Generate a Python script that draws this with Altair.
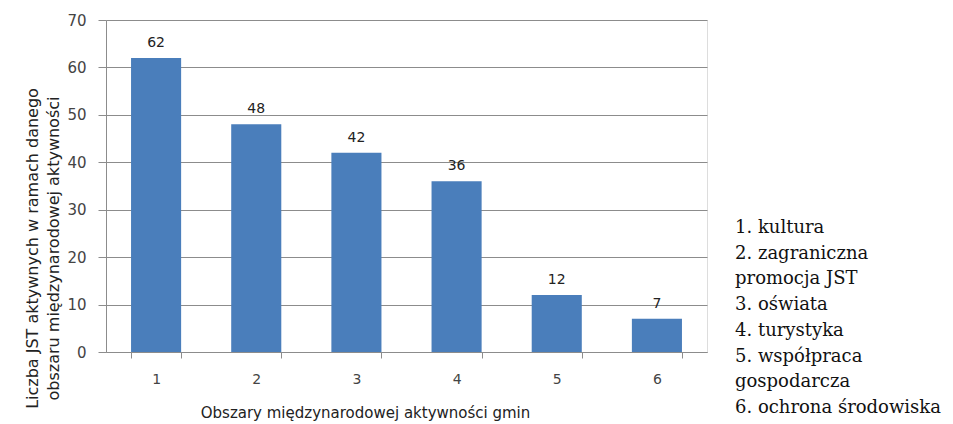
import altair as alt
import pandas as pd

categories = ["1", "2", "3", "4", "5", "6"]
values = [62, 48, 42, 36, 12, 7]
legend_lines = [
    "1. kultura",
    "2. zagraniczna",
    "promocja JST",
    "3. oświata",
    "4. turystyka",
    "5. współpraca",
    "gospodarcza",
    "6. ochrona środowiska",
]
y_title = ["Liczba JST aktywnych w ramach danego", "obszaru międzynarodowej aktywności"]
x_title = "Obszary międzynarodowej aktywności gmin"

df = pd.DataFrame({"cat": categories, "val": values})

W, H = 601, 332
SANS = "DejaVu Sans"

x_enc = alt.X(
    "cat:N",
    sort=categories,
    scale=alt.Scale(paddingInner=0.5, paddingOuter=0.25),
    axis=alt.Axis(
        title=x_title,
        labelAngle=0,
        labelFont=SANS,
        labelFontSize=14,
        labelColor="#444444",
        labelPadding=14,
        tickBand="extent",
        tickSize=6,
        tickColor="#8c8c8c",
        domainColor="#8c8c8c",
        titleFont=SANS,
        titleFontSize=15,
        titleFontWeight="normal",
        titleColor="#222222",
        titleX=259,
        titleY=60,
        titleAlign="center",
        titleBaseline="middle",
        grid=False,
    ),
)

y_enc = alt.Y(
    "val:Q",
    scale=alt.Scale(domain=[0, 70]),
    axis=alt.Axis(
        title=y_title,
        values=[0, 10, 20, 30, 40, 50, 60, 70],
        labelFont=SANS,
        labelFontSize=15,
        labelColor="#444444",
        labelPadding=12,
        tickSize=8,
        tickColor="#8c8c8c",
        domainColor="#8c8c8c",
        gridColor="#8c8c8c",
        gridWidth=1,
        titleFont=SANS,
        titleFontSize=16,
        titleFontWeight="normal",
        titleColor="#222222",
        titleAngle=270,
        titleX=-74,
        titleY=228,
        titleAlign="center",
        titleBaseline="middle",
        titleLineHeight=21,
    ),
)

base = alt.Chart(df).encode(x=x_enc, y=y_enc)

bars = base.mark_bar(color="#4A7EBB")
labels = base.mark_text(
    dy=-11, baseline="alphabetic", font=SANS, fontSize=14, color="#222222"
).encode(text="val:Q")

legend = alt.Chart(alt.Data(values=[{"k": 1}])).mark_text(
    align="left",
    baseline="alphabetic",
    font="DejaVu Serif",
    fontSize=18,
    lineHeight=25.7,
    color="#111111",
).encode(
    x=alt.value(629),
    y=alt.value(213),
    text=alt.value(legend_lines),
)

chart = alt.layer(bars, labels, legend).properties(
    width=W,
    height=H,
    autosize=alt.AutoSizeParams(type="none"),
    padding={"left": 98, "top": 12, "right": 236, "bottom": 72},
).configure_view(stroke=None).configure(background="white")

chart.save("out.html", embed_options={"renderer": "svg", "actions": False})
